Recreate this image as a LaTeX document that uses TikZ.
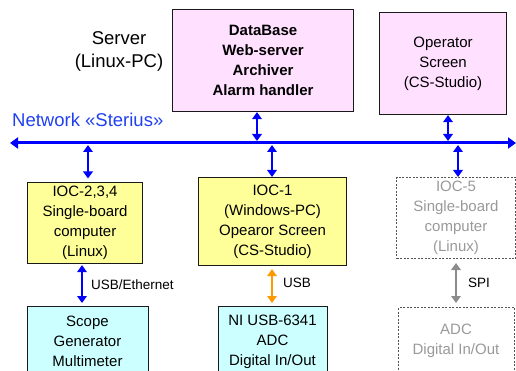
\documentclass[tikz,border=0pt]{standalone}
\usepackage{fontspec}
\setmainfont{Liberation Sans}
\usetikzlibrary{arrows.meta}
\definecolor{boxpink}{HTML}{FFE0FF}
\definecolor{boxyellow}{HTML}{FFFF99}
\definecolor{boxcyan}{HTML}{CCFFFF}
\definecolor{netblue}{HTML}{0000FF}
\definecolor{nettext}{HTML}{2040F0}
\definecolor{usborange}{HTML}{FF9900}
\definecolor{spigray}{HTML}{8C8C8C}
\definecolor{offtext}{HTML}{999999}
\definecolor{offline}{HTML}{555555}

\begin{document}
\begin{tikzpicture}[x=1pt,y=-1pt,
  box/.style={draw=black!90, line width=1.1pt, inner sep=0pt, anchor=north west,
    align=center, font=\fontsize{15}{20}\selectfont},
  offbox/.style={box, draw=offline, line width=1pt, dash pattern=on 2pt off 1.5pt, text=offtext},
  boxtext/.style={align=center, inner sep=0pt, font=\fontsize{15}{20}\selectfont},
  link/.style={line width=2.2pt, {Triangle[length=7pt,width=9.5pt]}-{Triangle[length=7pt,width=9.5pt]}},
  lbl/.style={font=\fontsize{13.5}{16}\selectfont, anchor=west, inner sep=0pt},
]
\useasboundingbox (0,0) rectangle (516,371);
\clip (0,0) rectangle (516,371);

% server and operator station
\node[font=\fontsize{18.5}{23}\selectfont, align=center] (server) at (119,51.5) {Server\\(Linux-PC)};
\node[box, fill=boxpink, minimum width=181, minimum height=102,
  font=\bfseries\fontsize{15}{20}\selectfont] (db) at (172,9)
  {DataBase\\Web-server\\Archiver\\Alarm handler};
\node[box, fill=boxpink, minimum width=127, minimum height=102] (op) at (379,12)
  {Operator\\Screen\\(CS-Studio)};

% network bus
\node[anchor=west, text=nettext, font=\fontsize{18.5}{22}\selectfont, inner sep=0pt] (net) at (12,120) {Network «Sterius»};
\coordinate (busL) at (10,143);
\coordinate (busR) at (516,143);
\draw[netblue, line width=3pt, {Triangle[length=8pt,width=11pt]}-{Triangle[length=8pt,width=11pt]}] (busL) -- (busR);

% IOCs
\node[box, fill=boxyellow, minimum width=115, minimum height=81] (io2) at (27,182)
  {IOC-2,3,4\\Single-board\\computer\\(Linux)};
\node[box, fill=boxyellow, minimum width=148, minimum height=88] (io1) at (198,177)
  {IOC-1\\(Windows-PC)\\Opearor Screen\\(CS-Studio)};
\node[offbox, minimum width=119, minimum height=81] (io5) at (396,177)
  {IOC-5\\Single-board\\computer\\(Linux)};

% hardware
\node[box, fill=boxcyan, minimum width=121, minimum height=100] (scope) at (27,306) {};
\node[boxtext] (scopetxt) at (87.5,341) {Scope\\Generator\\Multimeter};
\node[box, fill=boxcyan, minimum width=109, minimum height=100] (ni) at (218,306) {};
\node[boxtext] (nitxt) at (272.5,341.5) {NI USB-6341\\ADC\\Digital In/Out};
\node[offbox, minimum width=116, minimum height=100] (adc) at (398,307) {};
\node[boxtext, text=offtext] (adctxt) at (456,341) {ADC\\Digital In/Out};

% bus taps
\coordinate (dbbus) at (257,141);
\coordinate (opbus) at (448,141);
\coordinate (b2) at (88,145);
\coordinate (b1) at (272,145);
\coordinate (b5) at (458,145);
\draw[link, netblue] (db.south -| dbbus) -- (dbbus);
\draw[link, netblue] (op.south -| opbus) -- (opbus);
\draw[link, netblue, shorten >=3.5pt] (b2) -- (b2 |- io2.north);
\draw[link, netblue] (b1) -- (b1 |- io1.north);
\draw[link, netblue] (b5) -- (b5 |- io5.north);

% device links
\coordinate (u2) at (82,0);
\coordinate (u1) at (272,0);
\coordinate (u5) at (456,0);
\draw[link, netblue, shorten <=1pt, shorten >=3pt] (io2.south -| u2) -- (scope.north -| u2);
\draw[link, usborange, shorten <=3pt, shorten >=3pt] (io1.south -| u1) -- (ni.north -| u1);
\draw[link, spigray, shorten <=4pt, shorten >=4pt] (io5.south -| u5) -- (adc.north -| u5);
\node[lbl] (l2) at (91,285) {USB/Ethernet};
\node[lbl] (l1) at (283,283) {USB};
\node[lbl] (l5) at (468,283) {SPI};
\end{tikzpicture}
\end{document}
